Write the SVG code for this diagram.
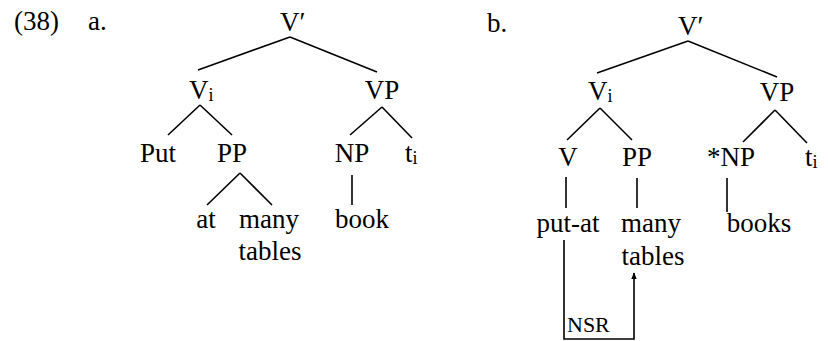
<svg xmlns="http://www.w3.org/2000/svg" width="828" height="341" viewBox="0 0 828 341">
<defs>
<style>
text{font-size:27px;fill:#000}
.m{text-anchor:middle}
.sub{font-size:18px}
.small{font-size:22px}
line,polyline{stroke:#000;stroke-width:1.6;fill:none}
</style>
<marker id="ah" viewBox="0 0 10 10" refX="9" refY="5" markerWidth="7" markerHeight="9" orient="auto" markerUnits="userSpaceOnUse">
<path d="M0,1 L10,5 L0,9 Z" fill="#000"/>
</marker>
</defs>
<rect width="828" height="341" fill="#fff"/>
<g font-family="'Liberation Serif', 'Times New Roman', 'DejaVu Serif', serif">
<g id="labels">
<text x="14" y="30">(38)</text>
<text x="88" y="30">a.</text>
<text x="487" y="32">b.</text>
</g>
<g id="tree-a">
<g id="a-vbar"><text x="280" y="31">V′</text></g>
<g id="a-vi"><text x="189" y="99">V<tspan class="sub" dy="2">i</tspan></text></g>
<g id="a-vp"><text class="m" x="382" y="99">VP</text></g>
<g id="a-put"><text class="m" x="158" y="162">Put</text></g>
<g id="a-pp"><text class="m" x="232" y="162">PP</text></g>
<g id="a-np"><text class="m" x="352" y="162">NP</text></g>
<g id="a-t"><text x="405" y="162">t<tspan class="sub" dy="2">i</tspan></text></g>
<g id="a-at"><text class="m" x="206" y="228">at</text></g>
<g id="a-many"><text class="m" x="269" y="228">many</text><text class="m" x="270" y="260">tables</text></g>
<g id="a-book"><text class="m" x="362" y="228">book</text></g>
</g>
<g id="tree-b">
<g id="b-vbar"><text x="678" y="35">V′</text></g>
<g id="b-vi"><text x="588" y="100">V<tspan class="sub" dy="2">i</tspan></text></g>
<g id="b-vp"><text class="m" x="777" y="101">VP</text></g>
<g id="b-v"><text class="m" x="568" y="166">V</text></g>
<g id="b-pp"><text class="m" x="637" y="166">PP</text></g>
<g id="b-np"><text x="707" y="166">*NP</text></g>
<g id="b-t"><text x="805" y="166">t<tspan class="sub" dy="2">i</tspan></text></g>
<g id="b-putat"><text class="m" x="568" y="232">put-at</text></g>
<g id="b-many"><text class="m" x="651" y="232">many</text><text class="m" x="653" y="265">tables</text></g>
<g id="b-books"><text class="m" x="759" y="232">books</text></g>
<g id="b-nsr"><text class="small" x="567" y="332">NSR</text></g>
</g>
</g>
<g id="connectors">
<line x1="290" y1="37" x2="198" y2="70"/>
<line x1="290" y1="37" x2="377" y2="72"/>
<line x1="200" y1="105" x2="168" y2="135"/>
<line x1="200" y1="105" x2="232" y2="135"/>
<line x1="382" y1="107" x2="350" y2="135"/>
<line x1="382" y1="107" x2="412" y2="138"/>
<line x1="240" y1="173" x2="207" y2="205"/>
<line x1="240" y1="173" x2="272" y2="205"/>
<line x1="352" y1="175" x2="352" y2="205"/>
<line x1="688" y1="41" x2="597" y2="73"/>
<line x1="688" y1="41" x2="777" y2="77"/>
<line x1="600" y1="108" x2="567" y2="140"/>
<line x1="600" y1="108" x2="632" y2="140"/>
<line x1="775" y1="110" x2="743" y2="142"/>
<line x1="775" y1="110" x2="807" y2="143"/>
<line x1="566" y1="177" x2="566" y2="208"/>
<line x1="637" y1="178" x2="637" y2="208"/>
<line x1="727" y1="178" x2="727" y2="212"/>
<polyline points="564,240 564,339 634,339 634,273" marker-end="url(#ah)"/>
</g>
</svg>
